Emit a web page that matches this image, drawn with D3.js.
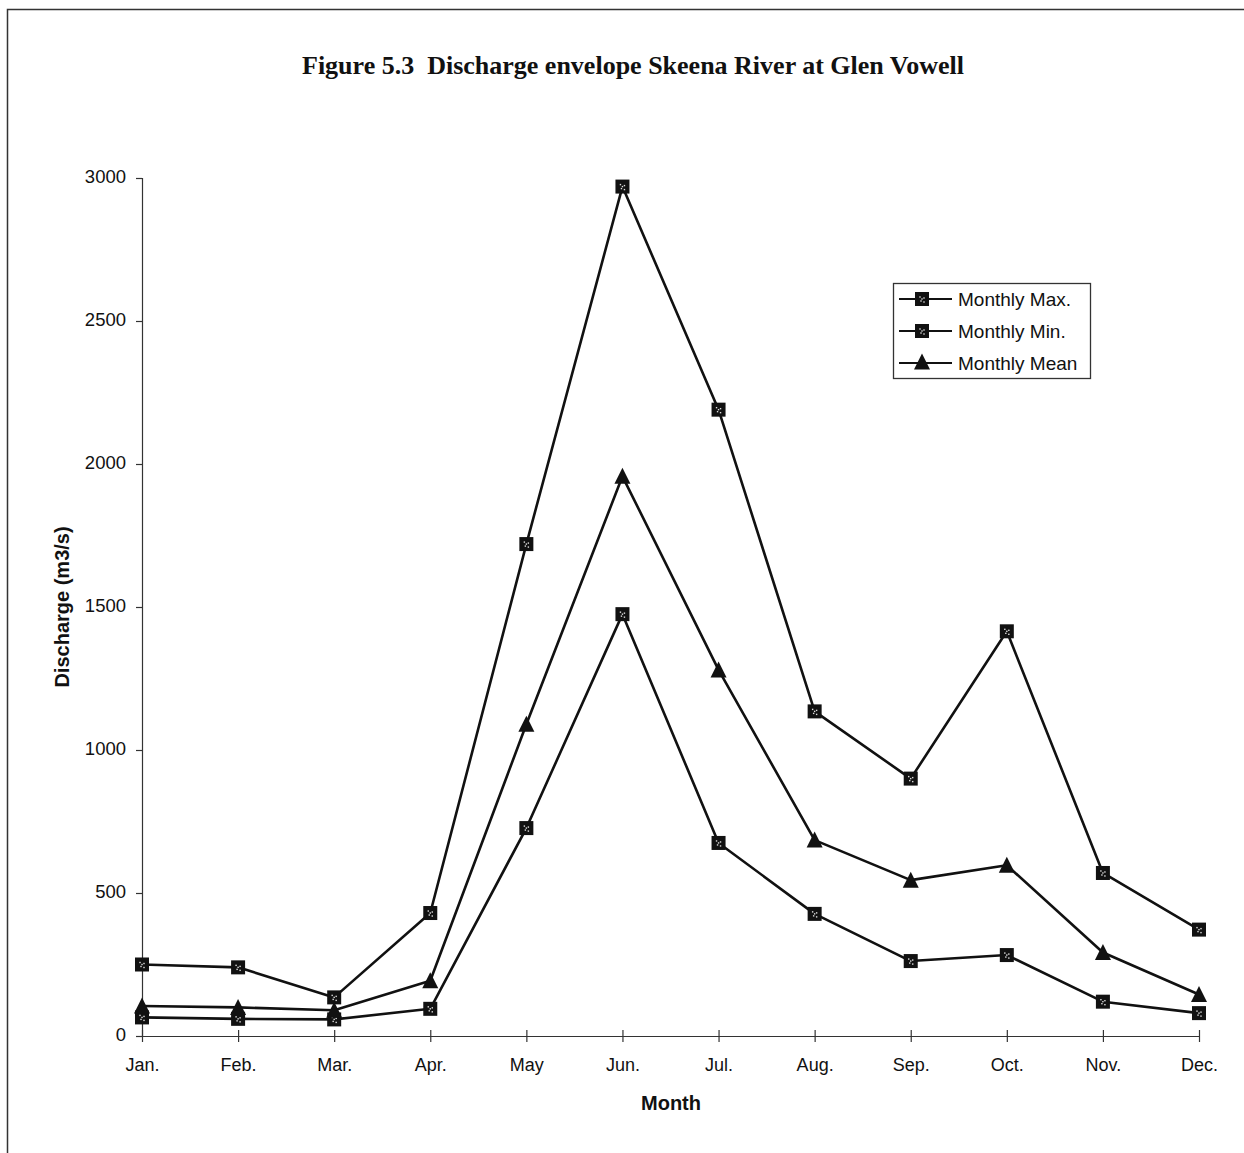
<!DOCTYPE html>
<html>
<head>
<meta charset="utf-8">
<script src="https://cdn.jsdelivr.net/npm/d3@7"></script>
<style>
  html, body { margin: 0; padding: 0; background: #fff; }
  svg { display: block; }
</style>
</head>
<body>
<svg id="chart" width="1244" height="1153"></svg>
<script>
// Skeena River at Glen Vowell — monthly discharge envelope (m3/s)
const months = ["Jan.", "Feb.", "Mar.", "Apr.", "May", "Jun.", "Jul.", "Aug.", "Sep.", "Oct.", "Nov.", "Dec."];
const monthlyMax  = [250, 240, 135, 430, 1720, 2970, 2190, 1135, 900, 1415, 570, 372];
const monthlyMin  = [65, 60, 58, 95, 727, 1475, 675, 427, 262, 283, 120, 80];
const monthlyMean = [105, 100, 90, 193, 1090, 1957, 1280, 685, 545, 597, 292, 145];
const yTicks = [0, 500, 1000, 1500, 2000, 2500, 3000];

const seriesList = [
  { name: "Monthly Max.", values: monthlyMax, marker: "square" },
  { name: "Monthly Min.", values: monthlyMin, marker: "square" },
  { name: "Monthly Mean", values: monthlyMean, marker: "triangle" }
];

const svg = d3.select("#chart");
const sans = "'Liberation Sans', Arial, sans-serif";
const serif = "'Liberation Serif', 'Times New Roman', serif";

// outer frame (top and left edges)
svg.append("path")
  .attr("d", "M7.5,1153 V9.5 H1244")
  .attr("fill", "none").attr("stroke", "#333").attr("stroke-width", 1.5);

const plotLeft = 142, plotRight = 1199, plotTop = 178, plotBottom = 1036;

const x = d3.scalePoint().domain(months).range([plotLeft, plotRight]);
const y = d3.scaleLinear().domain([0, 3000]).range([plotBottom, plotTop]);

// title
svg.append("text")
  .attr("x", 633).attr("y", 74)
  .attr("text-anchor", "middle")
  .attr("xml:space", "preserve")
  .style("white-space", "pre")
  .attr("font-family", serif).attr("font-weight", "bold").attr("font-size", 26)
  .attr("fill", "#111")
  .text("Figure 5.3  Discharge envelope Skeena River at Glen Vowell");

// y axis
const yAxis = svg.append("g")
  .attr("transform", `translate(${plotLeft},0)`)
  .call(d3.axisLeft(y).tickValues(yTicks).tickSize(6).tickPadding(10).tickFormat(d3.format("d")));
yAxis.select(".domain").attr("stroke", "#333").attr("stroke-width", 1.2);
yAxis.selectAll(".tick line").attr("stroke", "#333").attr("stroke-width", 1.2);
yAxis.selectAll(".tick text")
  .attr("font-family", sans).attr("font-size", 18.5).attr("fill", "#111")
  .attr("dy", "0.25em");

// x axis with ticks crossing the baseline
const xAxis = svg.append("g")
  .attr("transform", `translate(0,${plotBottom})`)
  .call(d3.axisBottom(x).tickSizeInner(6).tickSizeOuter(0).tickPadding(16));
xAxis.select(".domain").attr("stroke", "#333").attr("stroke-width", 1.2);
xAxis.selectAll(".tick line").attr("y1", -6).attr("y2", 6).attr("stroke", "#333").attr("stroke-width", 1.2);
xAxis.selectAll(".tick text")
  .attr("font-family", sans).attr("font-size", 18).attr("fill", "#111");

// axis titles
svg.append("text")
  .attr("x", 671).attr("y", 1110)
  .attr("text-anchor", "middle")
  .attr("font-family", sans).attr("font-weight", "bold").attr("font-size", 20)
  .attr("fill", "#111")
  .text("Month");

svg.append("text")
  .attr("transform", `translate(69,607) rotate(-90)`)
  .attr("text-anchor", "middle")
  .attr("font-family", sans).attr("font-weight", "bold").attr("font-size", 20)
  .attr("fill", "#111")
  .text("Discharge (m3/s)");

// marker drawing helpers
function drawSquare(g, cx, cy) {
  const s = 14;
  g.append("rect")
    .attr("x", cx - s / 2).attr("y", cy - s / 2)
    .attr("width", s).attr("height", s)
    .attr("fill", "#111");
  // speckled centre
  [[-2, -2], [2, -1], [-1, 2], [2, 3], [0, 0]].forEach(([dx, dy]) => {
    g.append("rect")
      .attr("x", cx + dx - 0.7).attr("y", cy + dy - 0.7)
      .attr("width", 1.4).attr("height", 1.4)
      .attr("fill", "#ddd");
  });
}
function drawTriangle(g, cx, cy) {
  const h = 15, w = 16;
  g.append("path")
    .attr("d", `M${cx},${cy - h / 2 - 1} L${cx + w / 2},${cy + h / 2} L${cx - w / 2},${cy + h / 2} Z`)
    .attr("fill", "#111");
}

const line = d3.line()
  .x((d, i) => x(months[i]))
  .y(d => y(d));

const plot = svg.append("g");
seriesList.forEach(s => {
  plot.append("path")
    .datum(s.values)
    .attr("d", line)
    .attr("fill", "none")
    .attr("stroke", "#111")
    .attr("stroke-width", 2.6)
    .attr("stroke-linejoin", "round");
});
seriesList.forEach(s => {
  const g = plot.append("g");
  s.values.forEach((v, i) => {
    if (s.marker === "square") drawSquare(g, x(months[i]), y(v));
    else drawTriangle(g, x(months[i]), y(v));
  });
});

// legend
const legend = svg.append("g");
legend.append("rect")
  .attr("x", 893.5).attr("y", 283.5)
  .attr("width", 197).attr("height", 95)
  .attr("fill", "#fff").attr("stroke", "#333").attr("stroke-width", 1.3);
seriesList.forEach((s, i) => {
  const ly = 299 + i * 32;
  legend.append("line")
    .attr("x1", 899).attr("x2", 952).attr("y1", ly).attr("y2", ly)
    .attr("stroke", "#111").attr("stroke-width", 2.2);
  if (s.marker === "square") drawSquare(legend, 922, ly);
  else drawTriangle(legend, 922, ly - 1);
  legend.append("text")
    .attr("x", 958).attr("y", ly + 7)
    .attr("font-family", sans).attr("font-size", 19).attr("fill", "#111")
    .text(s.name);
});
</script>
</body>
</html>
